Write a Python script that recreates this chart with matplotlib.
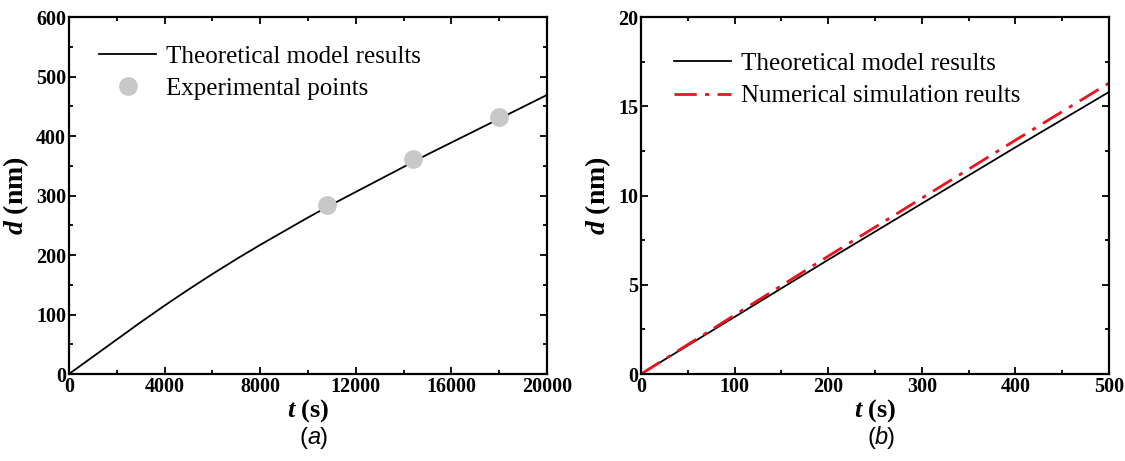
import matplotlib
matplotlib.use("Agg")
import matplotlib.pyplot as plt
from matplotlib.ticker import MultipleLocator

# --- datos panel (a) ---
t_a = [0, 1000, 2000, 3000, 4000, 5000, 6000, 7000, 8000, 9000, 10000,
       11000, 12000, 13000, 14000, 15000, 16000, 17000, 18000, 19000, 20000]
d_a = [0, 29, 58, 87, 115, 142, 168, 193, 217, 240, 263,
       285, 306, 327, 348, 369, 389, 409, 429, 449, 469]
t_exp = [10800, 14400, 18000]
d_exp = [284, 361, 432]

# --- datos panel (b) ---
t_b = [0, 100, 200, 300, 400, 500]
d_theo = [0, 3.2, 6.4, 9.55, 12.7, 15.8]
d_num = [0, 3.3, 6.6, 9.85, 13.1, 16.3]

plt.rcParams["font.family"] = ["Liberation Serif", "DejaVu Serif"]
plt.rcParams["mathtext.fontset"] = "custom"
plt.rcParams["mathtext.it"] = "Liberation Serif:italic:bold"
plt.rcParams["mathtext.rm"] = "Liberation Serif:bold"

fig = plt.figure(figsize=(11.25, 4.61), dpi=100)
ax1 = fig.add_axes([0.0613, 0.1887, 0.4249, 0.7744])
ax2 = fig.add_axes([0.5698, 0.1887, 0.416, 0.7744])

ax1.plot(t_a, d_a, color="black", lw=1.3, label="Theoretical model results")
ax1.plot(t_exp, d_exp, "o", color="#c8c8c8", ms=12.5, label="Experimental points")
ax1.set_xlim(0, 20000)
ax1.set_ylim(0, 600)
ax1.xaxis.set_major_locator(MultipleLocator(4000))
ax1.xaxis.set_minor_locator(MultipleLocator(2000))
ax1.yaxis.set_major_locator(MultipleLocator(100))
ax1.yaxis.set_minor_locator(MultipleLocator(50))

ax2.plot(t_b, d_theo, color="black", lw=1.3, label="Theoretical model results")
ax2.plot(t_b, d_num, color="#e8141e", lw=2, ls=(0, (8, 3, 1.5, 3)),
         label="Numerical simulation reults")
ax2.set_xlim(0, 500)
ax2.set_ylim(0, 20)
ax2.xaxis.set_major_locator(MultipleLocator(100))
ax2.xaxis.set_minor_locator(MultipleLocator(50))
ax2.yaxis.set_major_locator(MultipleLocator(5))
ax2.yaxis.set_minor_locator(MultipleLocator(2.5))

legend_pos = {"a": (0.026, 0.97), "b": (0.032, 0.95)}
for ax, cap in [(ax1, "a"), (ax2, "b")]:
    for s in ax.spines.values():
        s.set_linewidth(1.6)
    ax.tick_params(which="both", direction="in", top=True, right=True, width=1.3)
    ax.tick_params(which="major", length=5, labelsize=14.5, pad=2)
    ax.tick_params(which="minor", length=3)
    for lab in ax.get_xticklabels() + ax.get_yticklabels():
        lab.set_fontweight("bold")
    ax.set_xlabel(r"$t$ (s)", fontsize=19, fontweight="bold", labelpad=0)
    ax.set_ylabel(r"$d$ (nm)", fontsize=20, fontweight="bold", labelpad=4)
    ax.legend(loc="upper left", frameon=False, fontsize=18, handlelength=2.3,
              handletextpad=0.4, borderaxespad=0.3, labelspacing=0.4,
              bbox_to_anchor=legend_pos[cap])
    ax.text(0.5, -0.179, "(", transform=ax.transAxes, ha="right", va="center",
            fontsize=17, family=["Liberation Sans"])
    ax.text(0.5, -0.179, cap, transform=ax.transAxes, ha="left", va="center",
            fontsize=17, family=["Liberation Sans"], style="italic")
    ax.text(0.5 + (0.025 if cap == "a" else 0.026), -0.179, ")", transform=ax.transAxes,
            ha="left", va="center", fontsize=17, family=["Liberation Sans"])

fig.savefig("out.png", dpi=100)
